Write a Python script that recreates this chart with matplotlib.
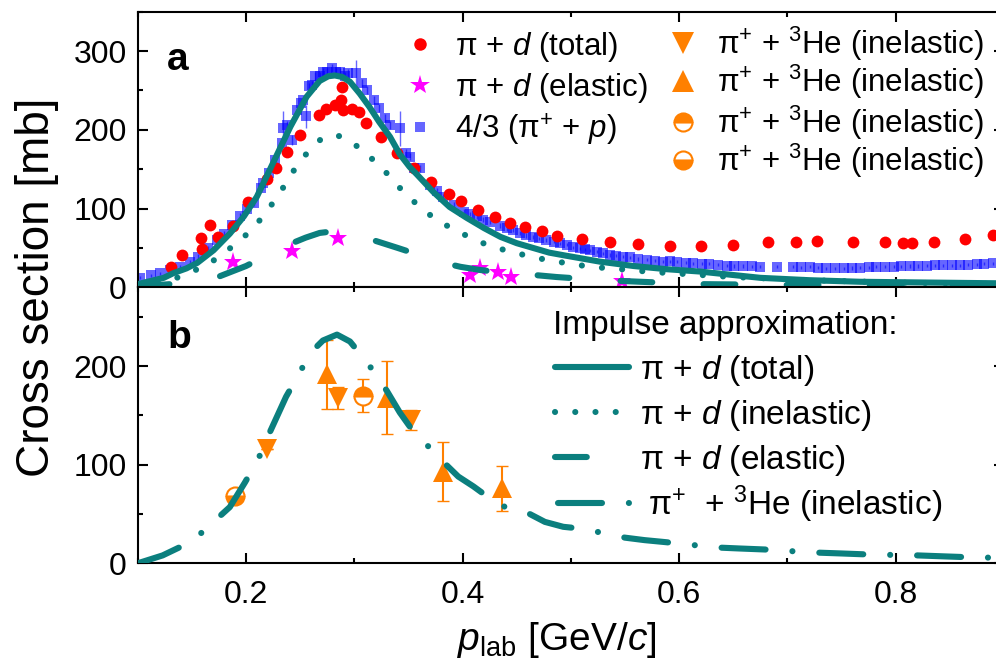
import numpy as np
import matplotlib
matplotlib.use('Agg')
import matplotlib.pyplot as plt
from matplotlib.ticker import MultipleLocator
from matplotlib.lines import Line2D

plt.rcParams['font.family'] = ['Liberation Sans', 'DejaVu Sans']
plt.rcParams['mathtext.fontset'] = 'custom'
plt.rcParams['mathtext.rm'] = 'Liberation Sans'
plt.rcParams['mathtext.it'] = 'Liberation Sans:italic'
plt.rcParams['mathtext.bf'] = 'Liberation Sans:bold'

# ---------------- data: panel a ----------------
red_p = [0.131, 0.141, 0.158, 0.159, 0.167, 0.174, 0.188, 0.202, 0.219, 0.228, 0.238, 0.250,
         0.267, 0.274, 0.282, 0.288, 0.289, 0.290, 0.298, 0.304, 0.311, 0.325, 0.339, 0.355,
         0.371, 0.387, 0.399, 0.414, 0.430, 0.444, 0.458, 0.473, 0.487, 0.510, 0.536, 0.562,
         0.592, 0.620, 0.650, 0.682, 0.708, 0.727, 0.761, 0.790, 0.807, 0.815, 0.835, 0.864, 0.890]
red_v = [26, 41, 62, 49, 79, 64, 78, 108, 138, 151, 172, 194,
         219, 227, 232, 238, 254, 225, 227, 223, 209, 191, 170, 151,
         134, 119, 109, 98, 89, 81, 76, 71, 65, 61, 57, 55,
         52, 52, 54, 58, 58, 59, 57, 57, 56, 56, 57, 61, 66]

blue_p = [0.102, 0.112, 0.121, 0.130, 0.139, 0.148, 0.156, 0.165, 0.173, 0.180, 0.187, 0.194,
          0.201, 0.207, 0.214, 0.216, 0.221, 0.227, 0.233, 0.234, 0.238, 0.242, 0.247, 0.251,
          0.253, 0.255, 0.258, 0.261, 0.264, 0.268, 0.271, 0.275, 0.279, 0.283, 0.287, 0.291,
          0.294, 0.302, 0.307, 0.312, 0.318, 0.323, 0.328, 0.333, 0.342, 0.348, 0.351, 0.355,
          0.361, 0.370, 0.376, 0.382, 0.392, 0.401, 0.407, 0.413, 0.419, 0.425, 0.435, 0.441,
          0.447, 0.453, 0.459, 0.465, 0.471, 0.477, 0.484, 0.490, 0.496, 0.502, 0.508, 0.513,
          0.518, 0.524, 0.530, 0.536, 0.542, 0.548, 0.555, 0.562, 0.570, 0.578, 0.585, 0.592,
          0.598, 0.606, 0.613, 0.621, 0.628, 0.636, 0.644, 0.651, 0.659, 0.667, 0.675, 0.690,
          0.705, 0.713, 0.721, 0.728, 0.736, 0.744, 0.752, 0.760, 0.767, 0.775, 0.782, 0.790,
          0.798, 0.805, 0.813, 0.821, 0.829, 0.836, 0.844, 0.852, 0.859, 0.867, 0.875, 0.882, 0.890]
blue_v = [12, 15, 18, 22, 26, 32, 39, 50, 60, 68, 79, 90,
          99, 107, 126, 132, 145, 162, 183, 202, 206, 187, 225, 234,
          238, 217, 255, 257, 268, 268, 274, 273, 278, 274, 274, 268,
          272, 272, 259, 250, 238, 228, 215, 206, 202, 170, 166, 151,
          151, 130, 122, 115, 105, 96, 93, 90, 86, 83, 78, 75,
          73, 69, 66, 64, 62, 60, 58, 56, 54, 51, 49.5, 48,
          47, 45, 43, 41, 40, 39, 38, 36, 35, 34, 32.5, 33,
          32.5, 31, 30.5, 30, 30, 28.5, 27.5, 27, 27, 26.5, 26, 26,
          26, 25.5, 26, 25, 24, 24, 24, 24.5, 25, 25.5, 26, 26,
          26, 26.5, 27, 27, 27.5, 28, 28, 28, 28, 28.5, 29, 30, 30.5]
blue_err = [2, 2, 2, 3, 2, 3, 3, 3, 3, 3, 4, 4,
            4, 4, 5, 4, 5, 5, 5, 22, 5, 6, 5, 5,
            5, 15, 5, 5, 5, 5, 5, 5, 5, 5, 5, 5,
            5, 17, 5, 5, 5, 5, 5, 5, 22, 5, 4, 4,
            4, 4, 4, 3, 3, 3, 3, 3, 3, 3, 3, 3,
            3, 3, 3, 3, 2, 2, 2, 2, 2, 2, 2, 2,
            2, 2, 2, 2, 2, 2, 2, 2, 2, 2, 2, 2,
            2, 2, 2, 2, 2, 2, 2, 2, 2, 2, 2, 2,
            2, 2, 2, 2, 2, 2, 2, 2, 2, 2, 2, 2,
            2, 2, 2, 2, 2, 2, 2, 2, 2, 2, 2, 2, 2]

star_p = [0.188, 0.242, 0.285, 0.407, 0.416, 0.433, 0.445, 0.547]
star_v = [32.5, 46.5, 63, 15, 24, 20, 13.5, 8]

# impulse approximation curves (panel a)
tot_p = [0.100, 0.112, 0.124, 0.133, 0.145, 0.155, 0.170, 0.185, 0.198, 0.210, 0.225, 0.241,
         0.256, 0.268, 0.276, 0.282, 0.289, 0.296, 0.305, 0.314, 0.323, 0.333, 0.342, 0.351,
         0.358, 0.373, 0.388, 0.404, 0.420, 0.435, 0.450, 0.465, 0.480, 0.496, 0.527, 0.558,
         0.588, 0.619, 0.675, 0.720, 0.767, 0.830, 0.900]
tot_v = [4, 8, 12, 18, 24, 31, 47, 68, 90, 115, 158, 204,
         242, 262, 268, 269, 267, 261, 246, 229, 210, 191, 169, 153,
         143, 121, 102, 88, 75, 64, 56, 50, 44, 40, 32.5, 27,
         23, 20, 12, 9, 7, 6, 5]

inel_p = [0.100, 0.118, 0.136, 0.152, 0.167, 0.181, 0.195, 0.208, 0.220, 0.231, 0.241, 0.250,
          0.261, 0.270, 0.278, 0.286, 0.294, 0.308, 0.321, 0.335, 0.347, 0.361, 0.376, 0.393,
          0.410, 0.428, 0.446, 0.462, 0.481, 0.499, 0.518, 0.536, 0.555, 0.573, 0.592, 0.650,
          0.720, 0.800, 0.900]
inel_v = [2, 6, 12, 21, 31, 45, 60, 77, 98, 119, 142, 160,
          178, 189, 193, 192, 187, 174, 157, 138, 118, 102, 85, 73,
          61, 51, 45, 39, 34, 30, 26, 24, 22, 19.5, 18, 13,
          9, 6, 4]

el_p = [0.100, 0.130, 0.150, 0.172, 0.200, 0.220, 0.239, 0.255, 0.268, 0.280, 0.292, 0.308,
        0.324, 0.340, 0.360, 0.379, 0.398, 0.416, 0.435, 0.455, 0.487, 0.530, 0.564, 0.620,
        0.700, 0.800, 0.900]
el_v = [1, 4, 7, 12, 27, 41, 54, 63, 69, 71, 69, 64,
        57, 50, 41, 32, 26, 22, 19, 17, 13, 9, 7, 4,
        3, 2.5, 2]

# ---------------- data: panel b ----------------
he_p = [0.100, 0.123, 0.142, 0.159, 0.185, 0.199, 0.211, 0.222, 0.237, 0.248, 0.259, 0.271,
        0.284, 0.296, 0.305, 0.317, 0.330, 0.342, 0.353, 0.368, 0.382, 0.396, 0.410, 0.425,
        0.441, 0.462, 0.476, 0.493, 0.511, 0.550, 0.568, 0.587, 0.635, 0.656, 0.679, 0.723,
        0.749, 0.773, 0.820, 0.845, 0.871, 0.900]
he_v = [0, 8, 18, 31, 57, 82, 105, 133, 169, 190, 213, 226,
        232, 225, 213, 196, 175, 153, 136, 119, 103, 88, 78, 66,
        56, 50, 42, 37, 35, 26, 23.5, 21.5, 16, 15, 14, 11,
        10, 9, 8, 7, 6, 5.5]

dn_p = [0.219, 0.285, 0.352]
dn_v = [116, 168, 145]
dn_err = [0, 11, 10]
up_p = [0.275, 0.330, 0.382, 0.436]
up_v = [192, 168, 93, 76]
up_err = [35, 37, 30, 23]
ctop_p = [0.308]
ctop_v = [170]
ctop_err = [17]
cbot_p = [0.190]
cbot_v = [68]
cbot_err = [0]

legend_a1 = ['π + $d$ (total)', 'π + $d$ (elastic)', '4/3 (π$^{+}$ + $p$)']
legend_a2 = ['π$^{+}$ + $^{3}$He (inelastic)'] * 4
legend_b_title = 'Impulse approximation:'
legend_b = ['π + $d$ (total)', 'π + $d$ (inelastic)', 'π + $d$ (elastic)',
            'π$^{+}$  + $^{3}$He (inelastic)']

# ---------------- figure ----------------
W, H = 996, 663
fig = plt.figure(figsize=(W / 100, H / 100), dpi=100)

teal = '#0b7f7e'
orange = '#ff8000'
LW = 4.4
DOT = (0, (0.01, 3.3))
DASH = (0, (5.2, 8.4))
DASHDOT = (0, (7.2, 4.4, 0.01, 4.4))

ax_a = fig.add_axes([0.1383, 0.5667, 0.8697, 0.4157])
ax_b = fig.add_axes([0.1383, 0.1504, 0.8697, 0.4163])

for ax in (ax_a, ax_b):
    ax.set_xlim(0.1, 0.9)
    ax.xaxis.set_major_locator(MultipleLocator(0.2))
    ax.xaxis.set_minor_locator(MultipleLocator(0.1))
    ax.yaxis.set_major_locator(MultipleLocator(100))
    ax.yaxis.set_minor_locator(MultipleLocator(50))
    ax.tick_params(which='both', direction='in', top=True, right=True, width=1.5,
                   labelsize=23, pad=8)
    ax.tick_params(which='major', length=7.5)
    ax.tick_params(which='minor', length=3.8)
    for s in ax.spines.values():
        s.set_linewidth(1.5)

ax_a.set_ylim(0, 350)
ax_b.set_ylim(0, 280)
ax_a.tick_params(labelbottom=False)
ax_b.tick_params(axis='x', pad=12)

# panel a data
ax_a.errorbar(blue_p, blue_v, yerr=blue_err, fmt='s', ms=6.5, mew=0, color='blue',
              alpha=0.6, elinewidth=1, capsize=2.5, zorder=2)
ax_a.plot(red_p, red_v, 'o', ms=8.5, mew=0, color='red', zorder=3)
ax_a.plot(star_p, star_v, '*', ms=14, mew=0, color='magenta', zorder=4)
ax_a.plot(tot_p, tot_v, color=teal, lw=LW, solid_capstyle='round', zorder=6)
ax_a.plot(inel_p, inel_v, color=teal, lw=LW, ls=DOT, dash_capstyle='round', zorder=6)
ax_a.plot(el_p, el_v, color=teal, lw=LW, ls=DASH, dash_capstyle='round', zorder=6)

# panel b data
ax_b.errorbar(dn_p, dn_v, yerr=dn_err, fmt='none', ecolor=orange, elinewidth=1.5, capsize=4, zorder=3)
ax_b.errorbar(up_p, up_v, yerr=up_err, fmt='none', ecolor=orange, elinewidth=1.5, capsize=4, zorder=3)
ax_b.errorbar(ctop_p, ctop_v, yerr=ctop_err, fmt='none', ecolor=orange, elinewidth=1.5, capsize=4, zorder=3)
ax_b.errorbar(cbot_p, cbot_v, yerr=cbot_err, fmt='none', ecolor=orange, elinewidth=1.5, capsize=4, zorder=3)
ax_b.plot(dn_p, dn_v, 'v', ms=14, mew=0, color=orange, zorder=4)
ax_b.plot(up_p, up_v, '^', ms=14, mew=0, color=orange, zorder=4)
ax_b.plot(ctop_p, ctop_v, 'o', ms=13, mew=1.5, color=orange, fillstyle='top',
          markerfacecoloralt='white', zorder=4)
ax_b.plot(cbot_p, cbot_v, 'o', ms=13, mew=1.5, color=orange, fillstyle='bottom',
          markerfacecoloralt='white', zorder=4)
ax_b.plot(he_p, he_v, color=teal, lw=LW, ls=DASHDOT, dash_capstyle='round', zorder=6)

# panel letters
fig.text(167 / W, 1 - 70 / H, 'a', fontsize=28, fontweight='bold', ha='left', va='baseline')
fig.text(167 / W, 1 - 348 / H, 'b', fontsize=28, fontweight='bold', ha='left', va='baseline')

# axis labels
fig.text(37 / W, 1 - 287.5 / H, 'Cross section [mb]', fontsize=33, rotation=90,
         ha='center', va='center')
fig.text(457 / W, 1 - 650 / H, r'$p_{\mathrm{lab}}$ [GeV/$c$]', fontsize=28,
         ha='left', va='baseline')


# ---------------- legends (figure pixel placement) ----------------
def fx(x):
    return x / W


def fy(y):
    return 1 - y / H


def leg_mark(x, y, **kw):
    fig.add_artist(Line2D([fx(x)], [fy(y)], transform=fig.transFigure, ls='none', **kw))


def leg_line(x0, x1, y, **kw):
    fig.add_artist(Line2D([fx(x0), fx(x1)], [fy(y), fy(y)], transform=fig.transFigure, **kw))


def leg_text(x, yc, s, size):
    base = yc + 0.358 * size * 100 / 72
    fig.text(fx(x), fy(base), s, fontsize=size, ha='left', va='baseline')


FA = 22.5
rows_a1 = [44, 84.5, 127]
leg_mark(420, rows_a1[0], marker='o', ms=9, mew=0, color='red')
leg_mark(420, rows_a1[1], marker='*', ms=15, mew=0, color='magenta')
leg_mark(420, rows_a1[2], marker='s', ms=7, mew=0, color='blue', alpha=0.6)
for r, s in zip(rows_a1, legend_a1):
    leg_text(455, r, s, FA)

rows_a2 = [42.5, 80.5, 121.7, 160]
leg_mark(683, rows_a2[0], marker='v', ms=15.5, mew=0, color=orange)
leg_mark(683, rows_a2[1], marker='^', ms=15.5, mew=0, color=orange)
leg_mark(683, rows_a2[2], marker='o', ms=13, mew=1.5, color=orange, fillstyle='top',
         markerfacecoloralt='white')
leg_mark(683, rows_a2[3], marker='o', ms=13, mew=1.5, color=orange, fillstyle='bottom',
         markerfacecoloralt='white')
for r, s in zip(rows_a2, legend_a2):
    leg_text(717, r, s, FA)

FB = 24
leg_text(553, 321.7, legend_b_title, FB)
rows_b = [366.7, 411.7, 456.7, 503.3]
leg_line(555, 629, rows_b[0], color=teal, lw=LW, solid_capstyle='round')
leg_line(555, 629, rows_b[1], color=teal, lw=LW, ls=DOT, dash_capstyle='round')
leg_line(555, 629, rows_b[2], color=teal, lw=LW, ls=DASH, dash_capstyle='round')
leg_line(558, 629, rows_b[3], color=teal, lw=LW, ls=DASHDOT, dash_capstyle='round')
leg_text(640, rows_b[0], legend_b[0], FB)
leg_text(640, rows_b[1], legend_b[1], FB)
leg_text(640, rows_b[2], legend_b[2], FB)
leg_text(648, rows_b[3], legend_b[3], FB)

fig.savefig('out.png', dpi=100)
